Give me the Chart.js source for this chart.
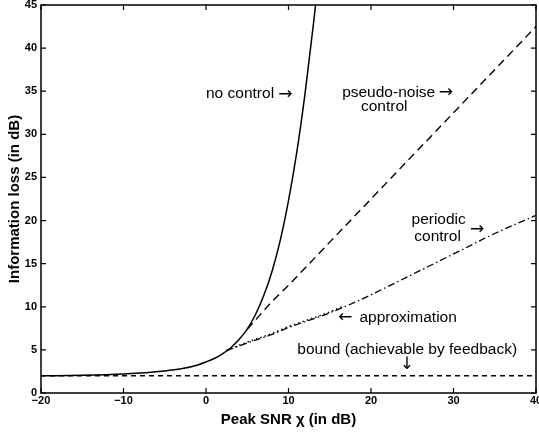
<!DOCTYPE html>
<html>
<head>
<meta charset="utf-8">
<script src="https://cdn.jsdelivr.net/npm/chart.js@4.4.0/dist/chart.umd.min.js"></script>
<style>
  html, body { margin: 0; padding: 0; background: #fff; }
  canvas { display: block; }
</style>
</head>
<body>
<canvas id="c" width="539" height="432"></canvas>
<script>
// ---- data ----
const xTicks = [-20, -10, 0, 10, 20, 30, 40];
const yTicks = [0, 5, 10, 15, 20, 25, 30, 35, 40, 45];

const noControlX = [-20, -15, -10, -5, -3, -1, 0, 1, 2, 3, 4, 5, 6, 7, 8, 9, 10, 11, 12, 13, 13.3];
const noControlY = [2.0, 2.05, 2.2, 2.55, 2.8, 3.25, 3.6, 4.0, 4.55, 5.25, 6.2, 7.4, 9.1, 11.3, 14.1, 17.7, 22.3, 27.9, 34.7, 42.6, 45.2];

const pseudoX = [5.0, 6.5, 8, 10, 15, 20, 25, 30, 35, 40];
const pseudoY = [7.4, 9.0, 10.6, 12.5, 17.5, 22.5, 27.5, 32.5, 37.5, 42.5];

const periodicX = [2.5, 5, 8, 10, 13, 15, 18.7, 23, 27, 31, 35, 40];
const periodicY = [4.9, 5.8, 6.8, 7.6, 8.6, 9.3, 10.8, 12.8, 14.7, 16.6, 18.5, 20.6];

const approxX = [2.5, 5, 8, 10, 13, 15, 16.5];
const approxY = [4.95, 5.9, 6.9, 7.7, 8.7, 9.4, 10.0];

const boundX = [-20, 40];
const boundY = [2.0, 2.0];

// annotation texts with anchor points in data units
const notes = [
  { text: 'no control', x: 0.0, y: 34.7, align: 'left' },
  { text: 'pseudo-noise', x: 16.5, y: 34.85, align: 'left' },
  { text: 'control', x: 21.6, y: 33.2, align: 'center' },
  { text: 'periodic', x: 28.2, y: 20.05, align: 'center' },
  { text: 'control', x: 28.07, y: 18.1, align: 'center' },
  { text: 'approximation', x: 18.6, y: 8.74, align: 'left' },
  { text: 'bound (achievable by feedback)', x: 11.07, y: 5.0, align: 'left' }
];
const arrows = [
  { text: '\u2192', x: 8.76, y: 34.6, align: 'left' },
  { text: '\u2192', x: 28.2, y: 34.85, align: 'left' },
  { text: '\u2192', x: 32.0, y: 19.0, align: 'left' },
  { text: '\u2190', x: 16.04, y: 8.8, align: 'left' },
  { text: '\u2193', x: 24.36, y: 3.3, align: 'center' }
];

function pts(xs, ys) { return xs.map((x, i) => ({ x: x, y: ys[i] })); }

const FONT = "'Liberation Sans', Arial, Helvetica, sans-serif";

const framePlugin = {
  id: 'frame',
  beforeDraw(chart) {
    const ctx = chart.ctx;
    ctx.save();
    ctx.fillStyle = '#fff';
    ctx.fillRect(0, 0, chart.width, chart.height);
    ctx.restore();
  },
  afterDatasetsDraw(chart) {
    const { ctx, chartArea: a, scales } = chart;
    ctx.save();
    ctx.strokeStyle = '#000';
    ctx.lineWidth = 1.5;
    ctx.strokeRect(a.left, a.top, a.right - a.left, a.bottom - a.top);
    ctx.lineWidth = 1.2;
    const L = 5;
    ctx.beginPath();
    scales.x.ticks.forEach(t => {
      const px = scales.x.getPixelForValue(t.value);
      ctx.moveTo(px, a.bottom); ctx.lineTo(px, a.bottom - L);
      ctx.moveTo(px, a.top); ctx.lineTo(px, a.top + L);
    });
    scales.y.ticks.forEach(t => {
      const py = scales.y.getPixelForValue(t.value);
      ctx.moveTo(a.left, py); ctx.lineTo(a.left + L, py);
      ctx.moveTo(a.right, py); ctx.lineTo(a.right - L, py);
    });
    ctx.stroke();

    ctx.fillStyle = '#000';
    ctx.textBaseline = 'middle';
    ctx.font = '15.5px ' + FONT;
    notes.forEach(n => {
      ctx.textAlign = n.align;
      ctx.fillText(n.text, scales.x.getPixelForValue(n.x), scales.y.getPixelForValue(n.y));
    });
    ctx.font = "17px 'DejaVu Sans', sans-serif";
    arrows.forEach(n => {
      ctx.textAlign = n.align;
      ctx.fillText(n.text, scales.x.getPixelForValue(n.x), scales.y.getPixelForValue(n.y));
    });
    ctx.restore();
  }
};

const common = { pointRadius: 0, borderColor: '#000', fill: false, cubicInterpolationMode: 'monotone' };

new Chart(document.getElementById('c'), {
  type: 'line',
  data: {
    datasets: [
      Object.assign({ label: 'bound', data: pts(boundX, boundY), borderWidth: 1.3, borderDash: [5, 4] }, common),
      Object.assign({ label: 'approximation', data: pts(approxX, approxY), borderWidth: 1.5, borderDash: [1.5, 3] }, common),
      Object.assign({ label: 'periodic control', data: pts(periodicX, periodicY), borderWidth: 1.3, borderDash: [7, 3, 1.5, 3] }, common),
      Object.assign({ label: 'pseudo-noise control', data: pts(pseudoX, pseudoY), borderWidth: 1.4, borderDash: [8, 5] }, common),
      Object.assign({ label: 'no control', data: pts(noControlX, noControlY), borderWidth: 1.5 }, common)
    ]
  },
  options: {
    responsive: false,
    animation: false,
    devicePixelRatio: 1,
    layout: { padding: { left: 0, right: 3, top: 5, bottom: 0 } },
    plugins: { legend: { display: false }, tooltip: { enabled: false } },
    scales: {
      x: {
        type: 'linear', min: -20, max: 40,
        afterBuildTicks: s => { s.ticks = xTicks.map(v => ({ value: v })); },
        afterFit: s => { s.height = 39; s.paddingLeft = 0; s.paddingRight = 0; },
        grid: { display: false, drawTicks: false },
        border: { display: false },
        ticks: {
          padding: 1, color: '#000',
          font: { family: FONT, size: 11, weight: 'bold' },
          callback: v => String(v).replace('-', '\u2212')
        },
        title: {
          display: true, text: 'Peak SNR \u03c7 (in dB)', color: '#000',
          font: { family: FONT, size: 15, weight: 'bold' },
          padding: { top: 0, bottom: 3 }
        }
      },
      y: {
        type: 'linear', min: 0, max: 45,
        afterBuildTicks: s => { s.ticks = yTicks.map(v => ({ value: v })); },
        afterFit: s => { s.width = 41; s.paddingTop = 0; s.paddingBottom = 0; },
        grid: { display: false, drawTicks: false },
        border: { display: false },
        ticks: {
          padding: 4, color: '#000',
          font: { family: FONT, size: 11, weight: 'bold' }
        },
        title: {
          display: true, text: 'Information loss (in dB)', color: '#000',
          font: { family: FONT, size: 15, weight: 'bold' },
          padding: { top: 6, bottom: 0 }
        }
      }
    }
  },
  plugins: [framePlugin]
});
</script>
</body>
</html>
